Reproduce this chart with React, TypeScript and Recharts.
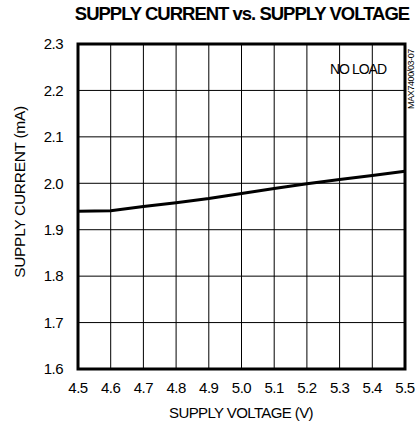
import React from "react";
import { LineChart, Line, XAxis, YAxis, CartesianGrid, ReferenceArea } from "recharts";

const voltage = [4.5, 4.6, 4.7, 4.8, 4.9, 5.0, 5.1, 5.2, 5.3, 5.4, 5.5];
const current = [1.94, 1.941, 1.95, 1.958, 1.967, 1.978, 1.989, 1.999, 2.008, 2.017, 2.026];
const xTicks = [4.5, 4.6, 4.7, 4.8, 4.9, 5.0, 5.1, 5.2, 5.3, 5.4, 5.5];
const yTicks = [1.6, 1.7, 1.8, 1.9, 2.0, 2.1, 2.2, 2.3];

const data = voltage.map((v, i) => ({ v, i: current[i] }));

const font = "'Liberation Sans', Arial, sans-serif";
const tickStyle = { fill: "#000", fontSize: 15, fontFamily: font, letterSpacing: -0.5 };

export default function App() {
  return (
    <div style={{ position: "absolute", left: 0, top: 0, width: 417, height: 431, fontFamily: font, background: "#fff", color: "#000" }}>
      <div
        style={{
          position: "absolute",
          top: 3,
          left: 0,
          width: 484,
          textAlign: "center",
          fontWeight: "bold",
          fontSize: 18.5,
          letterSpacing: -1,
          whiteSpace: "nowrap",
        }}
      >
        SUPPLY CURRENT vs. SUPPLY VOLTAGE
      </div>
      <div style={{ position: "absolute", top: 61, left: 330, fontSize: 14, letterSpacing: -1 }}>NO LOAD</div>
      <div
        style={{
          position: "absolute",
          left: 411,
          top: 79,
          fontSize: 9,
          letterSpacing: -0.4,
          transform: "translate(-50%, -50%) rotate(-90deg)",
          whiteSpace: "nowrap",
        }}
      >
        MAX7400/03-07
      </div>
      <div
        style={{
          position: "absolute",
          left: 20,
          top: 192,
          fontSize: 15.5,
          letterSpacing: -0.3,
          transform: "translate(-50%, -50%) rotate(-90deg)",
          whiteSpace: "nowrap",
        }}
      >
        SUPPLY CURRENT (mA)
      </div>
      <div
        style={{
          position: "absolute",
          left: 241,
          top: 412,
          fontSize: 15,
          letterSpacing: -0.6,
          transform: "translate(-50%, -50%)",
          whiteSpace: "nowrap",
        }}
      >
        SUPPLY VOLTAGE (V)
      </div>
      <LineChart width={417} height={431} data={data} margin={{ top: 44, right: 12, bottom: 0, left: 0 }}>
        <CartesianGrid stroke="#000" strokeWidth={1} />
        <XAxis
          dataKey="v"
          type="number"
          domain={[4.5, 5.5]}
          ticks={xTicks}
          tickFormatter={(t: number) => t.toFixed(1)}
          height={62}
          tickSize={0}
          tickMargin={13}
          axisLine={false}
          tick={tickStyle}
        />
        <YAxis
          type="number"
          domain={[1.6, 2.3]}
          ticks={yTicks}
          tickFormatter={(t: number) => t.toFixed(1)}
          width={78}
          tickSize={0}
          tickMargin={15}
          axisLine={false}
          tick={tickStyle}
        />
        <ReferenceArea x1={4.5} x2={5.5} y1={1.6} y2={2.3} fill="none" fillOpacity={0} stroke="#000" strokeWidth={3} />
        <Line dataKey="i" stroke="#000" strokeWidth={3} dot={false} isAnimationActive={false} type="linear" />
      </LineChart>
    </div>
  );
}
